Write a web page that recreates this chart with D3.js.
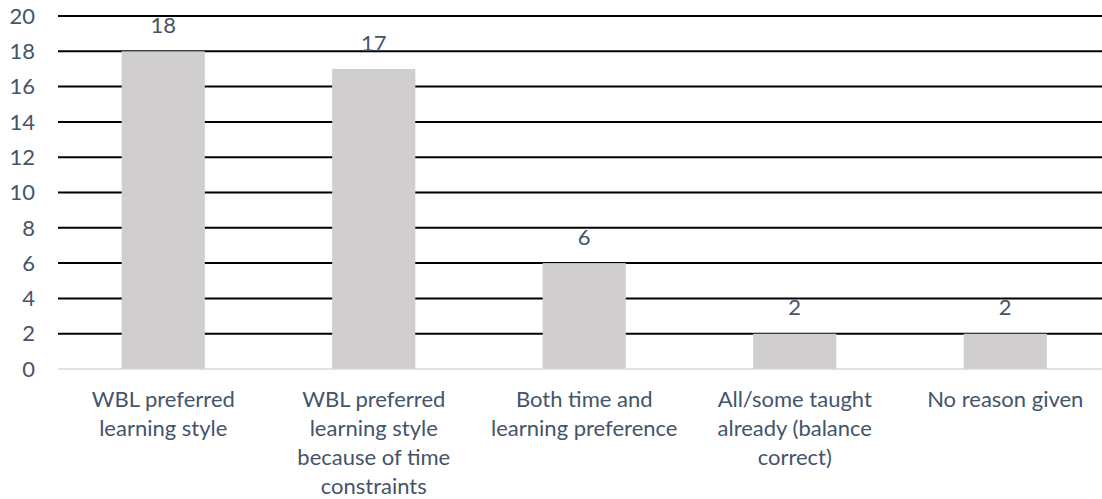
<!DOCTYPE html>
<html>
<head>
<meta charset="utf-8">
<script src="https://cdn.jsdelivr.net/npm/d3@7"></script>
<style>
  body { margin: 0; background: #fff; }
  svg { display: block; font-family: Lato, "Open Sans", sans-serif; }
  .label { fill: #44546a; }
</style>
</head>
<body>
<svg id="chart" width="1102" height="499"></svg>
<script>
const categories = [
  "WBL preferred learning style",
  "WBL preferred learning style because of time constraints",
  "Both time and learning preference",
  "All/some taught already (balance correct)",
  "No reason given"
];
// wrapped the way the original axis breaks them
const categoryLines = [
  ["WBL preferred", "learning style"],
  ["WBL preferred", "learning style", "because of time", "constraints"],
  ["Both time and", "learning preference"],
  ["All/some taught", "already (balance", "correct)"],
  ["No reason given"]
];
const counts = [18, 17, 6, 2, 2];
const yTicks = [0, 2, 4, 6, 8, 10, 12, 14, 16, 18, 20];

const svg = d3.select("#chart");
const fontSize = 22;

const x = d3.scaleBand()
  .domain(categories)
  .range([58, 1110.5])
  .paddingInner(0.605)
  .paddingOuter(0.3025);

const y = d3.scaleLinear().domain([0, 20]).range([369, 16]);

// gridlines
svg.append("g")
  .selectAll("line")
  .data(yTicks.filter(d => d > 0))
  .enter()
  .append("line")
  .attr("x1", 58)
  .attr("x2", 1102)
  .attr("y1", d => y(d))
  .attr("y2", d => y(d))
  .attr("stroke", "#000")
  .attr("stroke-width", 2);

// y tick labels
svg.append("g")
  .selectAll("text")
  .data(yTicks)
  .enter()
  .append("text")
  .attr("class", "label")
  .attr("x", 35)
  .attr("y", d => y(d))
  .attr("dy", "0.35em")
  .attr("text-anchor", "end")
  .attr("font-size", fontSize)
  .text(d => d);

// bars
svg.append("g")
  .selectAll("rect")
  .data(counts)
  .enter()
  .append("rect")
  .attr("x", (d, i) => x(categories[i]))
  .attr("width", x.bandwidth())
  .attr("y", d => y(d))
  .attr("height", d => y(0) - y(d))
  .attr("fill", "#d0cece");

// baseline
svg.append("line")
  .attr("x1", 58)
  .attr("x2", 1102)
  .attr("y1", y(0))
  .attr("y2", y(0))
  .attr("stroke", "#d9d9d9")
  .attr("stroke-width", 1.5);

// value labels
svg.append("g")
  .selectAll("text")
  .data(counts)
  .enter()
  .append("text")
  .attr("class", "label")
  .attr("x", (d, i) => x(categories[i]) + x.bandwidth() / 2)
  .attr("y", d => y(d) - 26)
  .attr("dy", "0.35em")
  .attr("text-anchor", "middle")
  .attr("font-size", fontSize)
  .text(d => d);

// category labels
const cat = svg.append("g")
  .selectAll("text")
  .data(categories)
  .enter()
  .append("text")
  .attr("class", "label")
  .attr("text-anchor", "middle")
  .attr("font-size", fontSize)
  .attr("transform", d => `translate(${x(d) + x.bandwidth() / 2},407)`);

cat.selectAll("tspan")
  .data((d, i) => categoryLines[i])
  .enter()
  .append("tspan")
  .attr("x", 0)
  .attr("y", (d, i) => i * 29)
  .text(d => d);
</script>
</body>
</html>
